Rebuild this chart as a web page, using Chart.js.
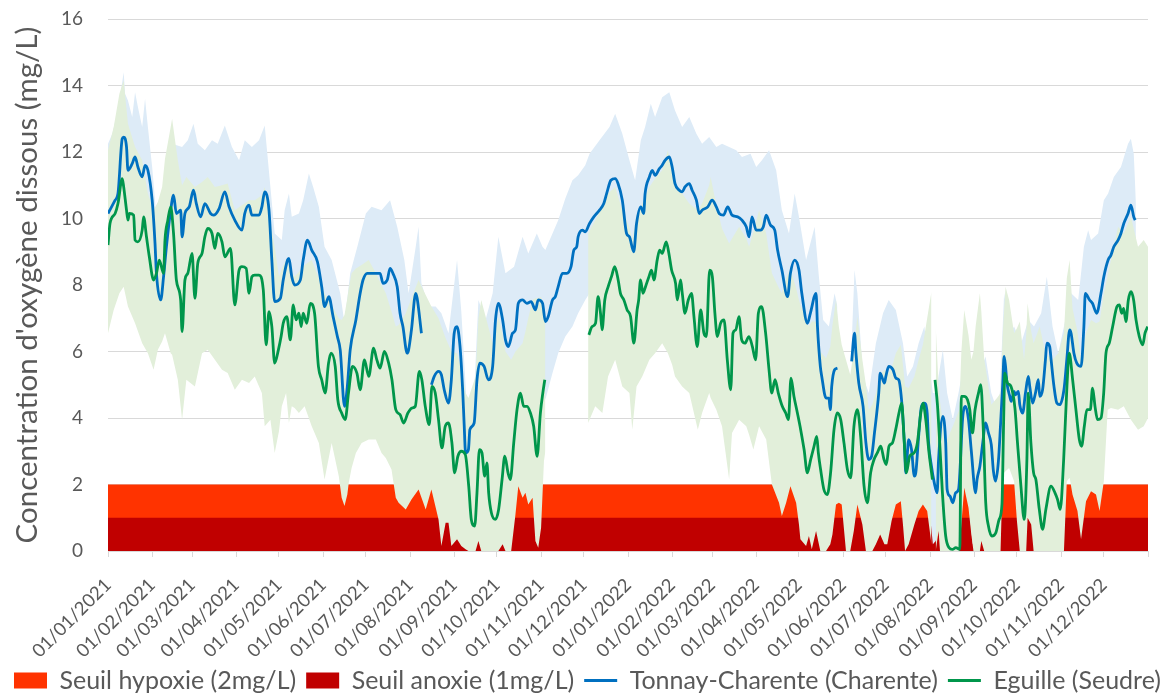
<!DOCTYPE html>
<html>
<head>
<meta charset="utf-8">
<script src="https://cdn.jsdelivr.net/npm/chart.js@4.4.1/dist/chart.umd.min.js"></script>
<style>
  html, body { margin: 0; padding: 0; background: #ffffff; }
  #wrap { width: 1175px; height: 695px; }
</style>
</head>
<body>
<div id="wrap"><canvas id="chart" width="1175" height="695"></canvas></div>
<script>
// x values are days since 01/01/2021
const tickLabels = ['01/01/2021', '01/02/2021', '01/03/2021', '01/04/2021', '01/05/2021', '01/06/2021',
  '01/07/2021', '01/08/2021', '01/09/2021', '01/10/2021', '01/11/2021', '01/12/2021',
  '01/01/2022', '01/02/2022', '01/03/2022', '01/04/2022', '01/05/2022', '01/06/2022',
  '01/07/2022', '01/08/2022', '01/09/2022', '01/10/2022', '01/11/2022', '01/12/2022'];

const legendNames = ['Seuil hypoxie (2mg/L)', 'Seuil anoxie (1mg/L)', 'Tonnay-Charente (Charente)', 'Eguille (Seudre)'];
const hypoxiaLevel = 2;
const anoxiaLevel = 1;

// Tonnay-Charente daily mean [day, mg/L]
const blueLine = [[0,10.15],[5,10.55],[7,10.75],[10,12.4],[11,12.45],[13,12.15],[14,11.45],[17,11.65],[19,11.85],[21,11.55],[24,11.25],[26,11.6],[28,11.45],[31,10.55],[33,9.25],[34,8.35],[37,7.55],[39,8.25],[41,9.15],[44,10.25],[46,10.7],[48,10.15],[51,10.25],[52,9.45],[54,10.15],[57,10.35],[60,10.85],[62,10.45],[65,10.05],[68,10.45],[72,10.15],[74,10.1],[78,10.3],[82,10.8],[85,10.35],[89,9.95],[94,9.65],[96,10.15],[99,10.4],[101,10.1],[106,10.1],[108,10.35],[110,10.8],[113,10.25],[115,8.75],[117,7.5],[121,7.6],[123,8.15],[126,8.75],[127,8.8],[129,8.25],[131,8.0],[135,8.15],[137,8.75],[140,9.35],[143,9.05],[147,8.7],[150,7.95],[152,7.35],[155,7.65],[158,7.05],[161,6.45],[163,6.05],[166,4.35],[168,4.95],[170,6.05],[174,6.95],[177,7.75],[179,8.15],[182,8.35],[188,8.35],[191,8.35],[193,8.05],[196,8.15],[198,8.5],[200,8.35],[203,7.95],[205,7.15],[207,6.75],[210,5.95],[211,6.05],[213,6.65],[216,7.75],[217,7.6],[220,6.55],[223,null],[227,5.0],[229,5.25],[232,5.4],[234,5.3],[236,4.85],[239,4.45],[241,5.15],[243,6.55],[245,6.75],[247,6.2],[248,5.6],[249,4.8],[250,3.8],[251,2.95],[253,3.05],[254,3.65],[257,3.85],[259,5.15],[261,5.65],[264,5.55],[267,5.15],[270,5.55],[272,6.95],[274,7.45],[277,6.95],[279,6.35],[281,6.15],[284,6.55],[286,6.65],[288,7.45],[291,7.55],[294,7.45],[297,7.5],[300,7.25],[302,7.55],[305,7.45],[307,6.9],[309,7.05],[312,7.55],[314,7.65],[316,7.95],[319,8.35],[322,8.35],[325,8.55],[327,9.05],[329,9.15],[330,9.45],[333,9.65],[335,9.6],[338,9.85],[341,10.05],[345,10.25],[348,10.45],[350,10.75],[353,11.15],[356,11.2],[358,11.05],[361,10.55],[364,9.55],[366,9.45],[369,9.0],[371,9.85],[374,10.35],[376,10.15],[377,10.75],[380,11.25],[382,11.45],[384,11.3],[387,11.5],[389,11.6],[391,11.75],[394,11.85],[396,11.55],[398,11.05],[401,10.85],[403,10.8],[405,10.95],[408,11.05],[410,10.85],[413,10.55],[415,10.15],[417,10.25],[421,10.35],[424,10.55],[427,10.35],[429,10.15],[432,10.1],[435,10.35],[438,10.1],[442,10.05],[445,9.95],[448,9.75],[450,9.45],[452,10.05],[455,9.65],[458,9.65],[460,9.75],[462,10.1],[465,9.8],[468,9.65],[470,9.05],[473,8.45],[477,7.65],[479,8.35],[482,8.75],[485,8.45],[487,7.75],[491,6.85],[493,7.15],[497,7.75],[498,6.75],[500,5.55],[501,5.25],[504,4.6],[506,4.6],[507,4.25],[508,4.95],[510,5.45],[512,5.5],[517,null],[522,5.7],[524,6.55],[525,5.95],[527,5.05],[530,4.35],[532,3.25],[534,2.75],[536,2.85],[538,3.55],[541,4.75],[542,5.35],[545,5.05],[546,5.25],[548,5.55],[551,5.45],[553,5.2],[555,5.15],[557,4.55],[559,3.25],[560,2.35],[562,3.35],[564,3.05],[566,2.25],[567,2.35],[569,3.45],[571,4.35],[573,4.45],[575,4.15],[576,3.25],[578,2.55],[580,2.05],[582,1.75],[583,2.75],[586,4.05],[588,3.25],[589,1.85],[591,1.65],[593,1.45],[595,1.75],[597,1.85],[600,4.05],[602,4.35],[604,3.95],[606,3.0],[609,1.75],[610,2.15],[612,2.55],[614,3.25],[616,3.85],[618,3.55],[620,3.2],[621.5,2.4],[623,2.1],[625,2.7],[626.5,3.8],[628,5.0],[629,5.85],[630,5.55],[631,5.05],[633,4.65],[634,4.5],[636,4.8],[637,4.7],[639,4.8],[640,4.4],[642,4.15],[644,4.75],[646,5.25],[647,4.95],[649,4.45],[651,4.75],[653,5.15],[654,4.65],[656,4.85],[658,5.75],[659,6.25],[661,6.15],[662,5.75],[664,4.95],[666,4.45],[668,4.4],[671,4.85],[673,5.75],[675,6.65],[676,6.55],[678,5.95],[680,5.65],[683,5.55],[685,6.75],[686,7.75],[689,7.55],[691,7.45],[694,7.15],[697,7.75],[699,8.25],[702,8.75],[704,8.9],[706,9.15],[709,9.35],[711,9.55],[713,9.85],[716,10.15],[718,10.4],[720,10.05],[721,9.95]];

// Eguille daily mean [day, mg/L]
const greenLine = [[0,9.2],[1.4,9.85],[5,10.15],[7,10.45],[10,11.2],[11,10.95],[13,10.25],[14,9.95],[15,10.15],[18,10.1],[19,9.35],[21,9.3],[24,9.65],[25,10.05],[27,9.45],[29,8.85],[32,8.15],[34,8.35],[36,8.75],[39,8.35],[40,9.35],[42,9.95],[44,10.35],[46,9.55],[48,8.15],[51,7.55],[52,6.6],[54,8.15],[56,8.35],[59,8.95],[61,7.6],[63,8.65],[66,8.95],[68,9.45],[70,9.7],[73,9.55],[75,9.1],[77,9.55],[80,9.3],[82,8.85],[86,9.1],[89,7.4],[92,8.45],[94,8.55],[97,8.5],[99,7.75],[101,8.25],[103,8.3],[106,8.3],[109,7.85],[111,6.2],[113,7.2],[115,6.75],[117,5.65],[119.6,6.05],[121.5,6.45],[123,6.85],[125.5,7.05],[128,6.35],[130,7.4],[132,6.95],[134,7.15],[135.6,6.75],[137,7.15],[139.5,6.85],[142,7.45],[145,7.15],[147.7,5.55],[150,5.15],[152.4,4.75],[154.8,5.65],[156.6,5.95],[159.5,5.55],[161.3,4.55],[164,4.15],[166.5,3.95],[168.8,4.75],[171.6,5.55],[174.7,5.35],[177,4.85],[180,5.75],[183,5.25],[186.4,6.1],[188.7,5.75],[191,5.5],[194,6.0],[197,5.65],[199.3,5.15],[202,4.25],[205,4.1],[207.5,3.85],[210.5,4.15],[213.3,4.3],[215.7,4.35],[218.5,5.4],[220.3,5.15],[222.7,4.35],[225.5,3.8],[227.4,4.95],[229.7,4.75],[232,3.95],[234.4,3.1],[236.7,3.75],[239,3.85],[241.4,3.25],[243.3,2.35],[245.6,2.85],[248,3.0],[250.8,2.9],[253.2,1.95],[255,0.95],[257.4,0.75],[259,1.75],[260.7,3.05],[262.5,2.95],[264.4,2.25],[266,2.65],[267.2,1.75],[269.1,1.15],[271.9,0.95],[274.2,1.25],[276.6,2.15],[278.5,2.85],[280.8,2.35],[282.4,2.15],[284.8,3.25],[287.1,4.25],[289.5,4.75],[291.8,4.35],[294.2,4.35],[296.5,4.15],[298.8,3.75],[301.2,2.85],[303.5,4.15],[305.2,4.75],[306.6,5.15],[320,null],[337.5,6.5],[339.8,6.75],[342.2,6.85],[344,7.65],[345.7,7.15],[346.8,6.65],[348.7,7.55],[351.1,7.95],[353.4,8.25],[355.7,8.55],[358.1,8.15],[359.7,7.75],[362.1,7.55],[364.4,7.25],[366.8,7.05],[369.1,6.25],[371.4,7.25],[372.5,7.55],[373.8,8.15],[375.5,7.75],[377.3,7.95],[379.7,8.25],[381.5,8.45],[383.2,8.15],[385.5,8.75],[387.2,9.05],[389,8.95],[391.8,9.3],[393.7,8.95],[395.6,8.45],[398.4,8.05],[399.6,7.55],[401.9,8.15],[403.1,7.75],[405,7.15],[407.3,7.55],[409.6,7.75],[411.3,7.05],[413.6,6.15],[416,7.25],[418.3,6.55],[420,6.45],[422.3,8.45],[424.2,8.25],[426,7.15],[427.7,6.45],[430,6.85],[432.4,6.95],[434.7,5.75],[437.1,4.85],[438.7,6.55],[440.6,6.65],[442.9,7.05],[444.8,6.35],[447.1,6.25],[449.9,6.45],[452.3,6.15],[454.6,5.75],[456.5,7.15],[458.8,7.35],[461.6,6.55],[464,5.45],[465.9,4.75],[468.2,5.15],[470.5,4.75],[473.3,4.35],[475.7,4.15],[477.6,3.95],[479.4,5.2],[481.5,4.65],[483.9,4.15],[486.2,3.65],[488.6,3.05],[490.9,2.35],[493.2,2.75],[495.6,3.15],[497.5,3.45],[498.6,2.95],[500.2,2.45],[502.5,1.85],[504.9,1.7],[507.2,2.35],[509.6,3.65],[511.9,4.15],[514.3,3.95],[516.6,3.25],[519,2.45],[521.3,2.2],[523.6,3.75],[526,4.25],[528.3,3.45],[530.7,1.95],[533,1.45],[535.3,2.35],[537.7,2.75],[540,2.95],[542.4,3.15],[544.7,2.75],[546.3,2.6],[548.2,3.15],[550.6,3.25],[552.9,3.65],[555.2,4.15],[557.1,4.45],[558.8,3.35],[560.4,2.35],[562.7,2.85],[565.8,2.95],[568.1,3.25],[570.5,4.15],[572.1,4.45],[574,3.95],[576.3,2.95],[578.7,2.15],[579.6,null],[580.5,5.15],[582.2,4.4],[583.8,3.25],[585.7,1.75],[588,0.45],[590.4,0.1],[592.7,0.05],[595.1,0.1],[597.9,0.05],[599,4.65],[600.9,4.65],[603.3,4.55],[604.9,4.25],[606.8,3.55],[608.6,4.25],[611,4.75],[612.6,5.0],[614.3,3.75],[616.1,1.45],[618,0.75],[620.4,0.45],[623.2,0.55],[625.5,0.95],[627.5,1.4],[628.6,3.75],[629.5,5.35],[631.4,5.05],[633.8,4.95],[636.6,4.3],[638.4,3.25],[640.8,1.95],[643.1,0.95],[645,2.75],[645.9,4.75],[647.8,3.25],[649.7,2.35],[651.3,2.15],[653.7,1.25],[656,0.65],[658.3,1.25],[661.9,1.95],[664.7,1.75],[666.5,1.55],[668.4,1.25],[670.8,2.75],[673.1,4.95],[674.7,5.95],[677.1,5.15],[679.4,4.25],[681.8,3.35],[683.4,3.15],[685.3,3.75],[687.1,4.25],[689.5,4.25],[691.1,4.9],[692.8,4.35],[694.6,3.95],[697,4.0],[698.9,4.75],[700.5,5.95],[702.8,6.25],[705.2,6.75],[708.2,7.35],[709.9,7.4],[711.5,7.15],[712.9,7.3],[714.5,6.9],[716.2,7.55],[718.1,7.8],[719.9,7.55],[721.6,6.95],[723.9,6.45],[726.3,6.2],[727.9,6.55],[729.8,6.75]];

// daily min / max envelopes [day, min, max]
const blueBand = [[0,8.9,12.25],[3,9.0,12.55],[7,9.3,13.25],[11,10.2,14.4],[12,10.3,13.75],[14,9.9,13.55],[17,10.0,13.05],[19,10.2,13.8],[21,9.9,13.35],[24,9.6,12.75],[26,10.0,13.6],[28,9.8,12.75],[31,9.0,11.55],[33,7.9,10.55],[35,6.9,9.15],[38,6.7,9.55],[40,7.5,10.75],[45,8.8,12.25],[52,8.3,12.15],[56,8.7,12.35],[60,9.2,12.85],[63,8.9,12.25],[68,8.9,12.05],[73,8.7,12.35],[77,8.8,12.25],[82,9.2,12.8],[87,8.7,12.15],[92,8.3,11.75],[96,8.6,12.35],[101,8.6,12.15],[106,8.6,12.35],[110,9.0,12.8],[114,7.5,10.95],[117,6.3,9.55],[122,6.4,9.35],[124,7.1,10.25],[127,7.4,10.75],[129,6.9,10.05],[134,6.8,10.15],[137,7.4,10.55],[141,7.9,11.35],[144,7.6,10.95],[148,7.2,10.35],[152,6.1,9.15],[157,5.8,8.75],[163,4.9,7.75],[166,3.4,6.85],[170,4.8,8.35],[175,5.8,9.15],[181,6.7,10.15],[185,6.9,10.35],[192,6.9,10.25],[198,7.1,10.55],[203,6.4,9.75],[208,5.3,8.75],[211,4.8,7.75],[216,6.2,9.15],[218,6.3,9.75],[220,5.2,8.05],[225,4.0,7.35],[230,4.2,7.35],[234,4.2,7.15],[239,3.5,6.55],[245,5.3,8.75],[248,4.5,7.2],[251,2.0,5.0],[253,2.0,3.55],[257,2.6,4.75],[260,3.8,7.55],[265,4.0,6.95],[270,4.2,7.75],[274,5.6,9.45],[279,4.8,8.35],[285,4.8,8.55],[291,5.6,9.45],[295,5.6,8.95],[301,5.3,9.55],[305,5.0,9.15],[307,4.55,9.05],[312,5.35,9.55],[316,5.95,9.95],[321,6.45,10.6],[326,6.75,11.15],[330,7.15,11.3],[335,7.55,11.6],[338,7.75,11.95],[345,8.2,12.35],[352,8.8,12.75],[356,9.0,13.15],[361,8.8,12.55],[366,7.8,11.75],[370,7.4,11.15],[374,8.2,12.35],[377,8.6,12.75],[381,9.3,13.45],[384,9.4,13.05],[389,9.6,13.65],[394,9.9,13.8],[398,9.3,13.25],[403,9.0,12.75],[408,9.2,13.05],[413,8.6,12.55],[417,8.5,12.25],[422,8.8,12.45],[427,8.6,12.15],[431,8.4,12.25],[436,8.5,12.15],[441,8.3,12.05],[445,8.1,11.85],[451,8.3,11.95],[455,8.0,11.55],[459,8.1,11.75],[464,8.3,12.05],[469,7.6,11.45],[473,6.7,10.25],[478,6.0,9.55],[482,6.9,10.75],[485,6.6,10.05],[490,5.1,8.75],[496,5.9,9.75],[499,4.2,8.25],[502,3.0,6.95],[506,2.7,6.75],[510,3.5,7.75],[512,3.6,7.35],[516,null,null],[522,3.7,6.25],[524,4.6,8.45],[526,3.8,7.75],[530,2.1,5.25],[534,1.5,4.75],[539,2.0,6.25],[544,2.8,7.15],[548,3.0,7.55],[553,2.9,7.25],[558,2.0,6.25],[561,1.6,5.25],[565,1.5,5.55],[569,1.6,6.25],[573,2.4,6.75],[576,1.5,5.75],[579,0.2,4.75],[581,0.3,4.75],[586,1.2,6.05],[589,0.4,4.75],[593,0.2,3.95],[597,0.3,4.75],[602,2.4,5.95],[607,0.2,4.75],[611,1.0,5.25],[616,1.5,5.85],[620,1.0,4.75],[624,0.6,4.25],[626,1.2,4.75],[629,3.0,7.75],[633,2.6,6.55],[636,2.6,6.75],[641,1.8,6.25],[646,2.5,6.95],[650,2.2,6.75],[655,2.5,7.15],[659,3.4,8.25],[663,2.8,6.75],[667,2.4,5.95],[671,2.8,6.75],[676,3.8,7.75],[681,3.2,7.55],[685,4.0,9.15],[688,4.8,9.65],[690,5.0,9.35],[695,5.0,9.55],[699,5.6,10.55],[702,6.2,10.75],[706,6.6,11.25],[711,6.9,11.55],[716,7.4,12.25],[718,7.6,12.4],[720,7.4,11.95],[721.5,7.2,10.5]];

const greenBand = [[0,6.55,12.05],[4,7.25,12.75],[8,7.75,13.75],[11,7.95,14.15],[14,7.35,12.85],[19,6.85,12.15],[24,6.25,11.75],[28,5.95,10.75],[32,5.45,10.25],[35,6.05,10.5],[38,6.3,10.95],[40,6.55,11.8],[44,5.95,12.75],[45,5.9,13.0],[49,5.15,11.75],[52,3.95,11.0],[55,5.15,11.25],[61,4.95,10.95],[66,5.95,11.1],[70,6.05,11.25],[75,5.75,10.95],[80,5.45,11.0],[84,5.35,11.05],[89,4.85,10.25],[94,5.15,10.4],[99,5.05,10.55],[103,5.25,10.55],[108,4.75,10.7],[110,3.75,10.95],[114,3.95,9.9],[117,2.95,9.15],[120,3.6,8.25],[122,4.35,8.5],[125,4.75,8.75],[127,3.85,8.6],[129,4.35,8.4],[131,4.3,8.25],[134,4.15,8.4],[138,4.35,8.6],[143,3.75,8.75],[148,3.25,8.2],[152,2.15,7.75],[157,3.25,7.4],[162,2.25,7.0],[164,1.6,6.95],[166,1.35,7.1],[168,1.7,7.6],[169,2.05,7.9],[171,2.5,8.35],[174,2.95,8.5],[178,3.25,8.6],[183,3.35,8.75],[188,3.35,8.35],[192,2.95,8.0],[195,2.8,7.75],[199,2.45,7.2],[202,1.6,6.75],[204,1.45,6.8],[209,1.25,7.15],[213,1.55,7.6],[218,1.85,8.15],[223,1.25,7.7],[227,1.85,7.35],[232,0.95,7.0],[234,0.15,6.75],[237,0.85,6.4],[239,0.85,6.2],[241,0.15,6.0],[245,0.35,5.95],[248,0.15,5.5],[251,0.05,4.75],[253,0.0,4.6],[258,0.0,5.25],[260,0.3,7.0],[262,0.0,7.55],[270,0.0,6.25],[274,0.0,7.05],[277,0.2,6.5],[279,0.0,6.0],[283,0.0,5.75],[286,1.1,6.0],[288,1.95,6.1],[291,1.6,6.25],[293,1.75,6.6],[295,1.4,7.0],[298,1.6,7.55],[300,0.3,7.6],[302,0.1,7.6],[304,0.7,7.65],[306,2.7,7.3],[307,3.0,7.0],[320,null,null],[337,3.85,9.55],[342,4.35,9.95],[347,4.15,10.35],[351,5.25,10.75],[356,5.75,10.95],[361,4.95,10.25],[366,4.75,9.75],[368,3.65,9.35],[371,4.95,10.1],[375,5.25,10.45],[380,5.75,10.95],[384,5.95,11.2],[389,6.25,11.45],[393,5.95,12.05],[396,5.6,11.35],[398,5.25,11.0],[403,4.95,10.75],[408,4.75,10.45],[414,3.65,10.25],[417,4.15,10.45],[422,4.75,11.0],[423,4.6,11.25],[427,4.25,10.4],[429,4.0,10.05],[431,3.75,9.7],[436,2.15,9.25],[438,3.55,9.4],[443,3.95,9.75],[448,3.75,9.4],[450,3.5,9.15],[453,3.05,9.6],[457,3.75,10.25],[462,3.35,9.55],[466,2.0,8.35],[471,1.45,7.9],[473,1.05,7.75],[476,1.45,8.2],[479,1.95,8.5],[483,1.45,7.9],[485,0.8,7.55],[486,0.35,7.4],[490,0.15,7.0],[492,0.45,6.75],[494,0.05,6.9],[497,0.6,6.9],[500,0.0,6.0],[504,0.0,5.8],[507,0.2,6.15],[508.5,0.5,6.8],[511,1.4,7.55],[513,1.45,6.75],[515,1.4,6.2],[518,0.0,5.75],[521,0.0,5.3],[523.5,0.6,6.0],[526,1.4,7.05],[529.5,0.8,5.75],[532,0.0,5.0],[534,0.0,4.25],[536.5,0.0,4.4],[539,0.2,4.75],[542,0.5,5.3],[545,0.2,5.45],[547,0.2,5.3],[550,0.9,5.5],[553,1.4,5.95],[556.5,1.5,6.2],[558,0.8,5.6],[559.5,0.0,4.95],[562,0.2,4.9],[566,0.8,5.25],[569,1.2,5.75],[572,1.4,6.2],[575,1.2,7.0],[578,0.2,7.8],[579.6,null,null],[581,0.0,6.75],[583,0.6,5.0],[584,0.0,4.5],[588,0.0,3.25],[593,0.0,3.75],[597.5,0.0,4.25],[599,0.8,6.0],[601,1.9,7.25],[604,1.3,6.5],[606,0.5,5.75],[607.5,0.0,6.0],[609,0.0,6.75],[612,0.0,7.75],[613,0.3,7.2],[615,0.0,5.8],[620,0.0,4.4],[624,0.0,4.6],[626.5,0.0,4.75],[628,2.3,6.5],[630,2.4,7.95],[632.5,2.5,7.55],[636,2.1,6.55],[638,0.9,6.7],[640,0.0,6.9],[643,0.0,5.75],[644.5,0.0,6.5],[645.5,1.0,7.45],[648,0.8,6.6],[649.7,0.0,6.25],[654,0.0,6.75],[658,0.0,5.95],[663,0.0,5.75],[667,0.0,5.95],[671,0.0,6.55],[673,2.1,8.2],[675,2.2,8.75],[677,1.7,7.3],[680.5,1.2,6.6],[683,0.35,5.75],[686.5,1.5,6.55],[690,1.8,6.95],[693.5,1.7,6.85],[696,1.2,6.9],[699,2.1,7.75],[701.7,4.25,8.3],[704,4.3,8.75],[709,4.25,9.75],[713,4.35,9.55],[718,3.95,10.05],[723,3.65,9.15],[727,3.75,9.35],[730,4.0,9.15]];

const day0 = Date.UTC(2021, 0, 1);
function dayOf(label) {
  const [d, m, y] = label.split('/').map(Number);
  return (Date.UTC(y, m - 1, d) - day0) / 86400000;
}
const tickDays = tickLabels.map(dayOf);
const lastDay = dayOf('01/01/2023');

const textColor = '#595959';
const fontFamily = 'Lato, "Noto Sans", sans-serif';
const clear = 'rgba(0,0,0,0)';

const pts = (rows, col) => rows.map(r => ({ x: r[0], y: r[col] }));

function bandSet(data, fillColor, order, fillTo) {
  return {
    data: data, order: order, borderColor: clear, borderWidth: 0,
    backgroundColor: fillColor, fill: fillTo, pointRadius: 0, tension: 0, spanGaps: false
  };
}

const datasets = [
  { label: legendNames[3], data: pts(greenLine, 1), order: 0, borderColor: '#00964B', borderWidth: 2.8,
    pointRadius: 0, fill: false, cubicInterpolationMode: 'monotone', spanGaps: false },
  { label: legendNames[2], data: pts(blueLine, 1), order: 1, borderColor: '#0070C0', borderWidth: 2.8,
    pointRadius: 0, fill: false, cubicInterpolationMode: 'monotone', spanGaps: false },
  bandSet(pts(greenBand, 2), '#E2EFDA', 2, 3),
  bandSet(pts(greenBand, 1), clear, 3, false),
  bandSet(pts(blueBand, 2), '#DDEBF7', 4, 5),
  bandSet(pts(blueBand, 1), clear, 5, false),
  bandSet([{ x: 0, y: anoxiaLevel }, { x: lastDay, y: anoxiaLevel }], '#C00000', 6, 'origin'),
  bandSet([{ x: 0, y: hypoxiaLevel }, { x: lastDay, y: hypoxiaLevel }], '#FF3300', 7, 'origin')
];

const legendItems = [
  { text: legendNames[0], fillStyle: '#FF3300', strokeStyle: '#FF3300', lineWidth: 0, pointStyle: 'rect', datasetIndex: 7 },
  { text: legendNames[1], fillStyle: '#C00000', strokeStyle: '#C00000', lineWidth: 0, pointStyle: 'rect', datasetIndex: 6 },
  { text: legendNames[2], fillStyle: clear, strokeStyle: '#0070C0', lineWidth: 3, pointStyle: 'line', datasetIndex: 1 },
  { text: legendNames[3], fillStyle: clear, strokeStyle: '#00964B', lineWidth: 3, pointStyle: 'line', datasetIndex: 0 }
];

const noPadding = scale => {
  scale.paddingLeft = 0; scale.paddingRight = 0; scale.paddingTop = 0; scale.paddingBottom = 0;
};

new Chart(document.getElementById('chart'), {
  type: 'line',
  data: { datasets: datasets },
  options: {
    responsive: false,
    animation: false,
    devicePixelRatio: 1,
    events: [],
    layout: { padding: { left: 0, right: 0, top: 19, bottom: -8 } },
    scales: {
      x: {
        type: 'linear', min: 0, max: lastDay,
        afterBuildTicks: scale => { scale.ticks = tickDays.concat([lastDay]).map(v => ({ value: v })); },
        afterFit: scale => { scale.height = 107; noPadding(scale); },
        ticks: {
          autoSkip: false, minRotation: 45, maxRotation: 45, padding: 17,
          color: textColor, font: { family: fontFamily, size: 18.5 },
          callback: (v, i) => tickLabels[i] || ''
        },
        grid: { drawOnChartArea: false, drawTicks: true, tickLength: 6, color: '#D9D9D9' },
        border: { display: true, color: '#D9D9D9' }
      },
      y: {
        min: 0, max: 16,
        afterFit: scale => { scale.width = 108; noPadding(scale); },
        ticks: { stepSize: 2, padding: 25, color: textColor, font: { family: fontFamily, size: 19 } },
        grid: { color: '#D9D9D9', drawTicks: false },
        border: { display: false },
        title: {
          display: true, text: "Concentration d'oxygène dissous (mg/L)",
          color: textColor, font: { family: fontFamily, size: 29.5 }, padding: { top: 10, bottom: 0 }
        }
      },
      // empty right-hand margin so the plot ends where the reference does
      yRight: {
        position: 'right', display: true,
        afterFit: scale => { scale.width = 27; noPadding(scale); },
        ticks: { display: false },
        grid: { display: false, drawTicks: false },
        border: { display: false }
      }
    },
    plugins: {
      tooltip: { enabled: false },
      legend: {
        position: 'bottom',
        labels: {
          usePointStyle: true, pointStyleWidth: 33, boxHeight: 16, padding: 10,
          color: textColor, font: { family: fontFamily, size: 25 },
          generateLabels: () => legendItems.map(it => Object.assign({ hidden: false, fontColor: textColor }, it))
        }
      }
    }
  }
});
</script>
</body>
</html>
